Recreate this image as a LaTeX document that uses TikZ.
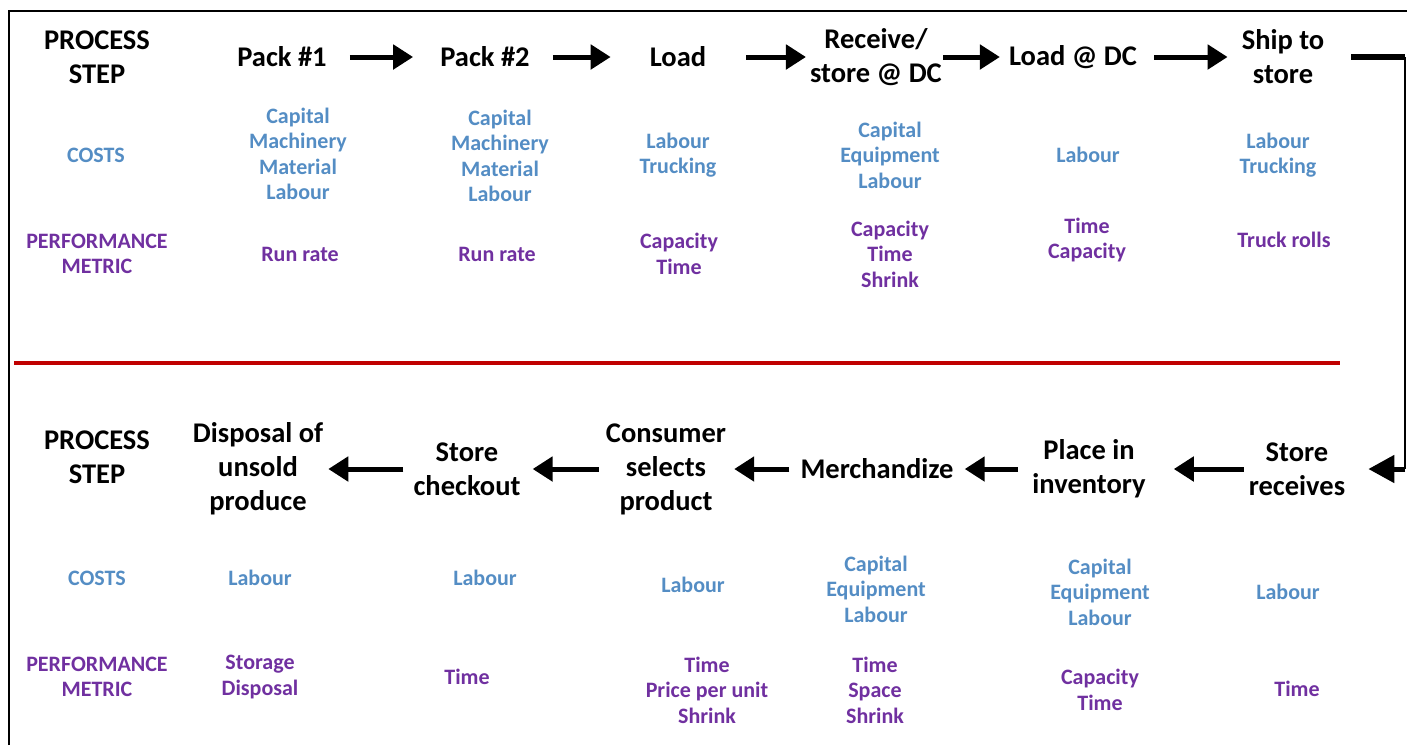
\documentclass[tikz,border=0pt]{standalone}
\usepackage{fontspec}
\setmainfont{Carlito}
\usetikzlibrary{arrows.meta}

\definecolor{costblue}{RGB}{84,141,196}
\definecolor{metricpurple}{RGB}{112,48,160}
\definecolor{divred}{RGB}{192,0,0}

\tikzset{
  stepnode/.style={inner sep=0pt, align=center, text=black,
    font=\fontsize{28.5}{34}\selectfont\bfseries},
  costnode/.style={inner sep=0pt, align=center, text=costblue,
    font=\fontsize{22}{25.5}\selectfont\bfseries},
  metricnode/.style={inner sep=0pt, align=center, text=metricpurple,
    font=\fontsize{22}{25.5}\selectfont\bfseries},
  flow/.style={line width=5pt, -{Triangle[length=20pt,width=24pt]}},
  bigflow/.style={line width=5pt, -{Triangle[length=26pt,width=27pt]}},
}

\begin{document}
\begin{tikzpicture}[x=1pt,y=-1pt]
\useasboundingbox (0,0) rectangle (1407,745);

% outer frame (left and top edges)
\draw[line width=2pt] (9,745) -- (9,11) -- (1407,11);

% ---------- upper chain ----------
\node[stepnode] (hdA) at (97,57) {PROCESS\\STEP};
\node[stepnode] (packA) at (282,57) {Pack \#1};
\node[stepnode] (packB) at (485,57) {Pack \#2};
\node[stepnode] (load) at (678,57) {Load};
\node[stepnode] (recvdc) at (876,57) {Receive/\\store @ DC};
\node[stepnode] (loaddc) at (1073,57) {Load @ DC};
\node[stepnode] (ship) at (1283,57) {Ship to\\store};

\node[costnode] (costA) at (96,155) {COSTS};
\node[costnode] (cPackA) at (298,154) {Capital\\Machinery\\Material\\Labour};
\node[costnode] (cPackB) at (500,156) {Capital\\Machinery\\Material\\Labour};
\node[costnode] (cLoad) at (678,155) {Labour\\Trucking};
\node[costnode] (cRecv) at (890,155) {Capital\\Equipment\\Labour};
\node[costnode] (cLoadDC) at (1088,155) {Labour};
\node[costnode] (cShip) at (1278,155) {Labour\\Trucking};

\node[metricnode] (metA) at (97,254) {PERFORMANCE\\METRIC};
\node[metricnode] (mPackA) at (300,254) {Run rate};
\node[metricnode] (mPackB) at (497,254) {Run rate};
\node[metricnode] (mLoad) at (679,254) {Capacity\\Time};
\node[metricnode] (mRecv) at (890,254) {Capacity\\Time\\Shrink};
\node[metricnode] (mLoadDC) at (1087,240) {Time\\Capacity};
\node[metricnode] (mShip) at (1284,240) {Truck rolls};

\draw[flow, shorten <=23pt, shorten >=27pt] (packA) -- (packB);
\draw[flow, shorten <=23pt, shorten >=39pt] (packB) -- (load);
\draw[flow, shorten <=40pt, shorten >=4pt] (load) -- (recvdc);
\draw[flow, shorten <=1pt, shorten >=9pt] (recvdc) -- (loaddc);
\draw[flow, shorten <=17pt, shorten >=14pt] (loaddc) -- (ship);

% divider between the two chains
\draw[divred, line width=4pt] (14,363) -- (1340,363);

% ---------- lower chain ----------
\node[stepnode] (hdB) at (97,457) {PROCESS\\STEP};
\node[stepnode] (dispose) at (258,469) {Disposal of\\unsold\\produce};
\node[stepnode] (checkout) at (467,469) {Store\\checkout};
\node[stepnode] (consumer) at (666,469) {Consumer\\selects\\product};
\node[stepnode] (merch) at (877,469) {Merchandize};
\node[stepnode] (place) at (1089,469) {Place in\\inventory};
\node[stepnode] (storerecv) at (1297,469) {Store\\receives};

\node[costnode] (costB) at (97,578) {COSTS};
\node[costnode] (cDispose) at (260,578) {Labour};
\node[costnode] (cCheckout) at (485,578) {Labour};
\node[costnode] (cConsumer) at (693,585) {Labour};
\node[costnode] (cMerch) at (876,589) {Capital\\Equipment\\Labour};
\node[costnode] (cPlace) at (1100,592) {Capital\\Equipment\\Labour};
\node[costnode] (cStoreRecv) at (1288,592) {Labour};

\node[metricnode] (metB) at (97,677) {PERFORMANCE\\METRIC};
\node[metricnode] (mDispose) at (260,677) {Storage\\Disposal};
\node[metricnode] (mCheckout) at (467,677) {Time};
\node[metricnode] (mConsumer) at (707,690) {Time\\Price per unit\\Shrink};
\node[metricnode] (mMerch) at (875,690) {Time\\Space\\Shrink};
\node[metricnode] (mPlace) at (1100,690) {Capacity\\Time};
\node[metricnode] (mStoreRecv) at (1297,689) {Time};

\draw[flow, shorten <=5pt, shorten >=28pt] (storerecv) -- (place);
\draw[flow, shorten <=14pt, shorten >=11pt] (place) -- (merch);
\draw[flow, shorten <=11pt, shorten >=8pt] (merch) -- (consumer);
\draw[flow, shorten <=7pt, shorten >=12pt] (consumer) -- (checkout);
\draw[flow, shorten <=10pt, shorten >=5pt] (checkout) -- (dispose);

% link from the end of the upper chain down to the lower chain
\coordinate (turnTop) at (1405,57);
\coordinate (turnBot) at (1405,469);
\draw[line width=6pt, shorten <=27pt] (ship) -- (turnTop);
\draw[line width=2pt] (turnTop) -- (turnBot);
\draw[bigflow, shorten >=23pt] (turnBot) -- (storerecv);

\end{tikzpicture}
\end{document}
